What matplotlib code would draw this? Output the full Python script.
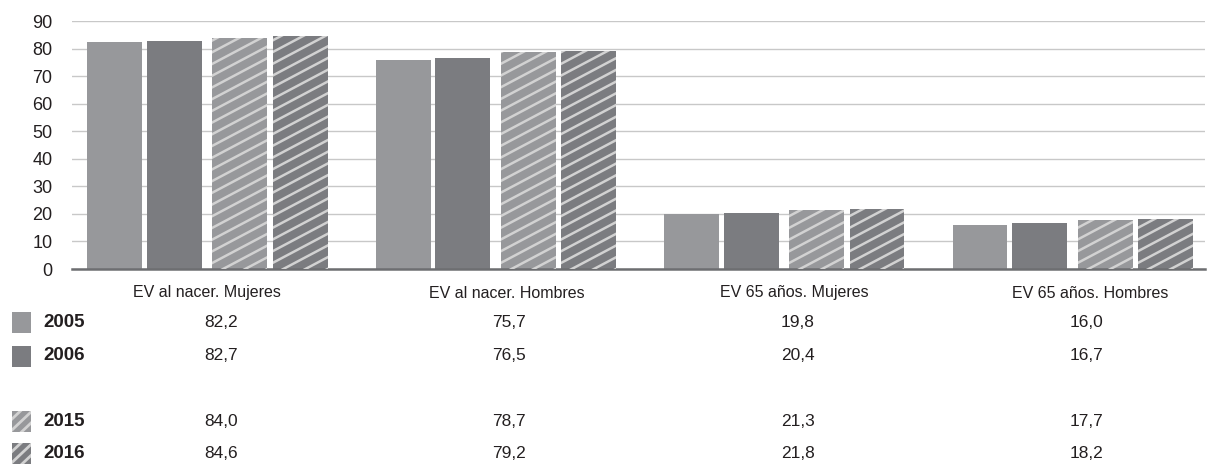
import matplotlib.pyplot as plt
import matplotlib.transforms as mtrans
from matplotlib.patches import Rectangle
from matplotlib.lines import Line2D
import numpy as np

plt.rcParams['font.family'] = ['Liberation Sans', 'DejaVu Sans']

# datos
categorias = ['EV al nacer. Mujeres', 'EV al nacer. Hombres',
              'EV 65 años. Mujeres', 'EV 65 años. Hombres']
anios = ['2005', '2006', '2015', '2016']
v2005 = [82.2, 75.7, 19.8, 16.0]
v2006 = [82.7, 76.5, 20.4, 16.7]
v2015 = [84.0, 78.7, 21.3, 17.7]
v2016 = [84.6, 79.2, 21.8, 18.2]
series = [v2005, v2006, v2015, v2016]

colores = ['#97989b', '#7b7c80', '#97989b', '#7b7c80']
rayado = [False, False, True, True]
offsets = [-0.32, -0.113, 0.114, 0.323]
ancho = 0.19
c_texto = '#231f20'
c_raya = '#d2d2d2'

W, H = 1211, 466
fig = plt.figure(figsize=(W / 100, H / 100), dpi=100)
ax = fig.add_axes([72/W, 1-269/H, (1205-72)/W, (269-21)/H])

x = np.arange(len(categorias))
ax.set_xlim(-0.468, 3.46)
ax.set_ylim(0, 90)

for s, vals in enumerate(series):
    barras = ax.bar(x + offsets[s], vals, ancho, color=colores[s],
                    edgecolor='none', zorder=2)
    if rayado[s]:
        # rayas diagonales recortadas a cada barra
        pend = 55.4   # unidades y por unidad x (~28 grados en pixeles)
        paso = 4.25
        for b in barras:
            x0 = b.get_x()
            x1 = x0 + b.get_width()
            h = b.get_height()
            for k in np.arange(-pend * (x1 - x0) - paso, h + paso, paso):
                ln = Line2D([x0, x1], [k, k + pend * (x1 - x0)],
                            color=c_raya, lw=1.8, zorder=3)
                ax.add_line(ln)
                ln.set_clip_path(b)

ax.set_yticks(range(0, 91, 10))
ax.yaxis.grid(True, color='#c8c8c8', lw=1.0, zorder=0)
ax.set_axisbelow(True)
ax.tick_params(axis='y', length=0, pad=14, labelsize=13, labelcolor=c_texto)
ax.set_xticks([])
for sp in ['top', 'right', 'left']:
    ax.spines[sp].set_visible(False)
ax.spines['bottom'].set_color('#6d6e71')
ax.spines['bottom'].set_linewidth(1.8)

trans = mtrans.blended_transform_factory(ax.transData, fig.transFigure)

# etiquetas de categorias
lab_x = [0.0, 1.04, 2.035, 3.063]
for i, c in enumerate(categorias):
    fig.text(lab_x[i], 1 - 293/H, c, transform=trans, ha='center', va='center',
             fontsize=11.5, color=c_texto)

# tabla de valores
filas_y = [322.5, 356, 421, 453.5]
for s, vals in enumerate(series):
    yf = 1 - filas_y[s] / H
    sw = Rectangle((12/W, yf - 10.5/H), 19/W, 21/H, transform=fig.transFigure,
                   facecolor=colores[s], edgecolor='none')
    fig.add_artist(sw)
    if rayado[s]:
        for d in np.arange(-22, 24, 11):
            ln = Line2D([12/W, 31/W], [yf + (d - 9)/H, yf + (d + 9)/H],
                        transform=fig.transFigure, color=c_raya, lw=2.0)
            fig.add_artist(ln)
            ln.set_clip_path(sw)
    fig.text(43/W, yf, anios[s], ha='left', va='center', fontsize=13.5,
             fontweight='bold', color=c_texto)
    for i, v in enumerate(vals):
        fig.text(i + 0.048, yf, f'{v:.1f}'.replace('.', ','), transform=trans,
                 ha='center', va='center', fontsize=12.5, color=c_texto)

fig.savefig('out.png', dpi=100)
